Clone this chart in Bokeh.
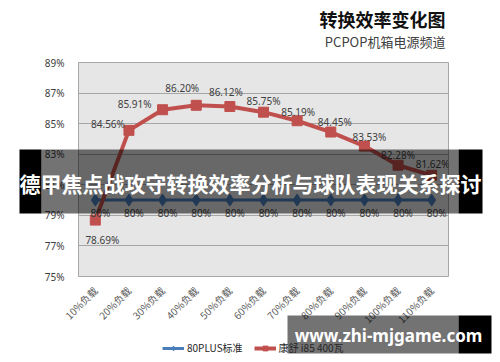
import math
import numpy as np
from bokeh.plotting import figure
from bokeh.layouts import column
from bokeh.models import (ColumnDataSource, FactorRange, Range1d, FixedTicker,
                          PrintfTickFormatter, Label, BoxAnnotation, Legend, LegendItem)
from bokeh.core.properties import value
from bokeh.embed import file_html
from bokeh.resources import INLINE

# ---------------- data ----------------
categories = ["10%负载", "20%负载", "30%负载", "40%负载", "50%负载", "60%负载",
              "70%负载", "80%负载", "90%负载", "100%负载", "110%负载"]
standard_80plus = [80, 80, 80, 80, 80, 80, 80, 80, 80, 80, 80]
kangshu_i85 = [78.69, 84.56, 85.91, 86.20, 86.12, 85.75, 85.19, 84.45, 83.53, 82.28, 81.62]
y_ticks = [75, 77, 79, 81, 83, 85, 87, 89]
series_names = ["80PLUS标准", "康舒 i85 400瓦"]
title_text = "转换效率变化图"
subtitle_text = "PCPOP机箱电源频道"
banner_text = "德甲焦点战攻守转换效率分析与球队表现关系探讨"
watermark_text = "www.zhi-mjgame.com"

# label placement (pixels; dx right, dy up)
red_label_dx = [7, -21, -28, -14, -4, 0, 1, 4, 5, 0, 1]
red_label_dy = [-20, 6, 6, 17, 15, 11, 9, 10, 9, 10, 11]
blue_label_dx = 5
blue_label_dy = -13

src = ColumnDataSource(dict(
    cat=categories,
    std=standard_80plus,
    ks=kangshu_i85,
    std_lbl=["%d%%" % v for v in standard_80plus],
    ks_lbl=["%.2f%%" % v for v in kangshu_i85],
    rdx=red_label_dx,
    rdy=[-d for d in red_label_dy],
))

BLUE = "#4a7ebb"
RED = "#c0504d"
W, H = 500, 362

# ---------------- main chart ----------------
p = figure(width=W, height=H, x_range=FactorRange(*categories),
           y_range=Range1d(75, 89), output_backend="svg", toolbar_location=None,
           min_border_left=78, min_border_right=52, min_border_top=62,
           min_border_bottom=86)
p.frame_align = False
p.background_fill_color = "#e6e6e6"
p.border_fill_color = "white"
p.outline_line_color = "#a6a6a6"
p.xgrid.grid_line_color = None
p.ygrid.grid_line_color = "#a6a6a6"

p.yaxis.ticker = FixedTicker(ticks=y_ticks)
p.yaxis.formatter = PrintfTickFormatter(format="%d%%")
p.yaxis.axis_line_color = None
p.yaxis.major_tick_line_color = None
p.yaxis.minor_tick_line_color = None
p.yaxis.major_label_standoff = 8
p.yaxis.major_label_text_font = "Noto Sans"
p.yaxis.major_label_text_font_size = "10px"
p.yaxis.major_label_text_color = "#404040"

p.xaxis.axis_line_color = None
p.xaxis.major_tick_line_color = None
p.xaxis.minor_tick_line_color = None
p.xaxis.major_label_orientation = math.pi / 4
p.xaxis.major_label_standoff = 6
p.xaxis.major_label_text_font = "Noto Sans CJK SC"
p.xaxis.major_label_text_font_size = "10px"
p.xaxis.major_label_text_color = "#595959"

p.line(x="cat", y="std", source=src, line_color=BLUE, line_width=3)
p.scatter(x="cat", y="std", source=src, marker="diamond", size=12,
          fill_color=BLUE, line_color=BLUE)
p.line(x="cat", y="ks", source=src, line_color=RED, line_width=4)
p.scatter(x="cat", y="ks", source=src, marker="square", size=10,
          fill_color=RED, line_color=RED)

p.text(x="cat", y="std", text="std_lbl", source=src, x_offset=blue_label_dx,
       y_offset=-blue_label_dy, text_align="center", text_baseline="middle",
       text_font=value("Noto Sans"), text_font_size="10px", text_color="#404040")
p.text(x="cat", y="ks", text="ks_lbl", source=src, x_offset="rdx", y_offset="rdy",
       text_align="center", text_baseline="middle",
       text_font=value("Noto Sans"), text_font_size="10px", text_color="#404040")

# ---------------- overlay (titles, legend, banners) in page pixels ----------------
q = figure(width=W, height=H, x_range=Range1d(0, W), y_range=Range1d(H, 0),
           output_backend="svg", toolbar_location=None, min_border=0,
           x_axis_location=None, y_axis_location=None, margin=(-H, 0, 0, 0))
q.frame_align = False
q.grid.visible = False
q.background_fill_alpha = 0
q.border_fill_alpha = 0
q.outline_line_color = None

q.add_layout(Label(x=445, y=18, text=title_text,
                   text_align="right", text_baseline="middle",
                   text_font="Noto Sans CJK SC", text_font_style="bold",
                   text_font_size="18px", text_color="#111111"))
q.add_layout(Label(x=445, y=41, text=subtitle_text,
                   text_align="right", text_baseline="middle",
                   text_font="Noto Sans CJK SC", text_font_size="13px",
                   text_color="#404040"))

# legend swatches only (no visible data)
empty = ColumnDataSource(dict(x=np.array([np.nan]), y=np.array([np.nan])))
lb = q.line("x", "y", source=empty, line_color=BLUE, line_width=3)
sb = q.scatter("x", "y", source=empty, marker="diamond", size=8, fill_color=BLUE, line_color=BLUE)
lr = q.line("x", "y", source=empty, line_color=RED, line_width=4)
sr = q.scatter("x", "y", source=empty, marker="square", size=8, fill_color=RED, line_color=RED)
legend = Legend(items=[LegendItem(label=series_names[0], renderers=[lb, sb]),
                       LegendItem(label=series_names[1], renderers=[lr, sr])],
                orientation="horizontal", location=(162, 7), border_line_color=None,
                background_fill_alpha=0, label_text_font_size="10px",
                label_text_font="Noto Sans CJK SC", label_text_color="#262626",
                glyph_width=22, glyph_height=12, label_standoff=3, spacing=11,
                padding=0, margin=0, label_height=12)
q.add_layout(legend)

def box(l, r, t, b, color, alpha):
    return BoxAnnotation(left=l, right=r, top=t, bottom=b,
                         fill_color=color, fill_alpha=alpha, line_color=None)

q.add_layout(box(19, 41, 149, 213, "black", 1.0))
q.add_layout(box(41, 458, 149, 213, "black", 0.55))
q.add_layout(box(458, 482, 149, 213, "black", 1.0))
q.add_layout(Label(x=250, y=182, text=banner_text,
                   text_align="center", text_baseline="middle",
                   text_font="Noto Sans CJK SC", text_font_style="bold",
                   text_font_size="21px", text_color="white"))

q.add_layout(box(287, 458, 315, 353, "black", 0.55))
q.add_layout(box(458, 491, 315, 353, "black", 1.0))
q.add_layout(Label(x=388, y=335, text=watermark_text,
                   text_align="center", text_baseline="middle",
                   text_font="Noto Sans", text_font_style="bold",
                   text_font_size="17px", text_color="white"))

page = column(p, q, spacing=0)
open("out.html", "w").write(file_html(page, INLINE))
